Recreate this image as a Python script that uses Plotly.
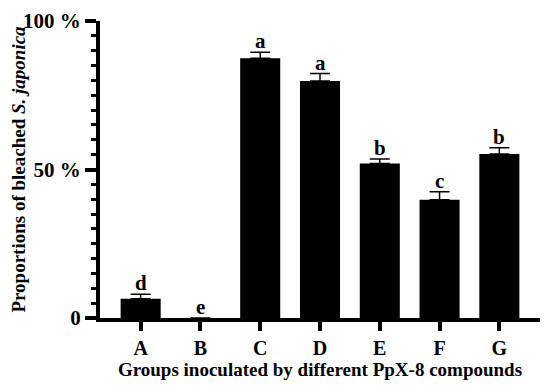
import plotly.graph_objects as go

groups = ["A", "B", "C", "D", "E", "F", "G"]
proportions = [6.5, 0, 87.5, 79.8, 52.0, 39.8, 55.2]
errors = [1.5, None, 2.0, 2.5, 1.5, 2.7, 2.1]
letters = ["d", "e", "a", "a", "b", "c", "b"]
ytick_vals = [0, 50, 100]
ytick_text = ["0", "50 %", "100 %"]

FONT = "Liberation Serif, Times New Roman, serif"

fig = go.Figure()
fig.add_trace(go.Bar(
    x=groups, y=proportions,
    marker=dict(color="black", line=dict(width=0)),
    width=0.67,
    error_y=dict(type="data", array=errors, arrayminus=[0]*len(errors),
                 symmetric=False, color="black", thickness=1.5, width=10),
))

for g, v, e, l in zip(groups, proportions, errors, letters):
    fig.add_annotation(x=g, y=v + (e or 0), text=f"<b>{l}</b>", showarrow=False,
                       yanchor="bottom", yshift=-3,
                       font=dict(family=FONT, size=21, color="black"))

# page body adds an 8px offset, so the figure is sized to fit the window
fig.update_layout(
    width=542, height=379,
    margin=dict(l=92, r=10, t=13, b=69),
    plot_bgcolor="white", paper_bgcolor="white",
    showlegend=False,
    font=dict(family=FONT, color="black"),
)
fig.update_xaxes(
    range=[-0.68, 6.68], automargin=False,
    showline=True, linecolor="black", linewidth=4,
    ticks="outside", ticklen=9, tickwidth=4, tickcolor="black",
    tickfont=dict(family=FONT, size=20, color="black"),
    tickprefix="<b>", ticksuffix="</b>",
    title=dict(text="<b>Groups inoculated by different PpX-8 compounds</b>",
               font=dict(family=FONT, size=19, color="black"), standoff=2),
    showgrid=False, zeroline=False,
)
fig.update_yaxes(
    range=[0, 100], automargin=False,
    showline=True, linecolor="black", linewidth=4,
    tickvals=ytick_vals, ticktext=[f"<b>{t}</b>" for t in ytick_text],
    ticks="outside", ticklen=11, tickwidth=4, tickcolor="black",
    tickfont=dict(family=FONT, size=21, color="black"),
    minor=dict(dtick=5, ticks="outside", ticklen=5, tickwidth=3, tickcolor="black"),
    title=dict(text="<b>Proportions of bleached <i>S. japonica</i></b>",
               font=dict(family=FONT, size=19, color="black"), standoff=0),
    showgrid=False, zeroline=False,
)

fig.write_html("out.html")
